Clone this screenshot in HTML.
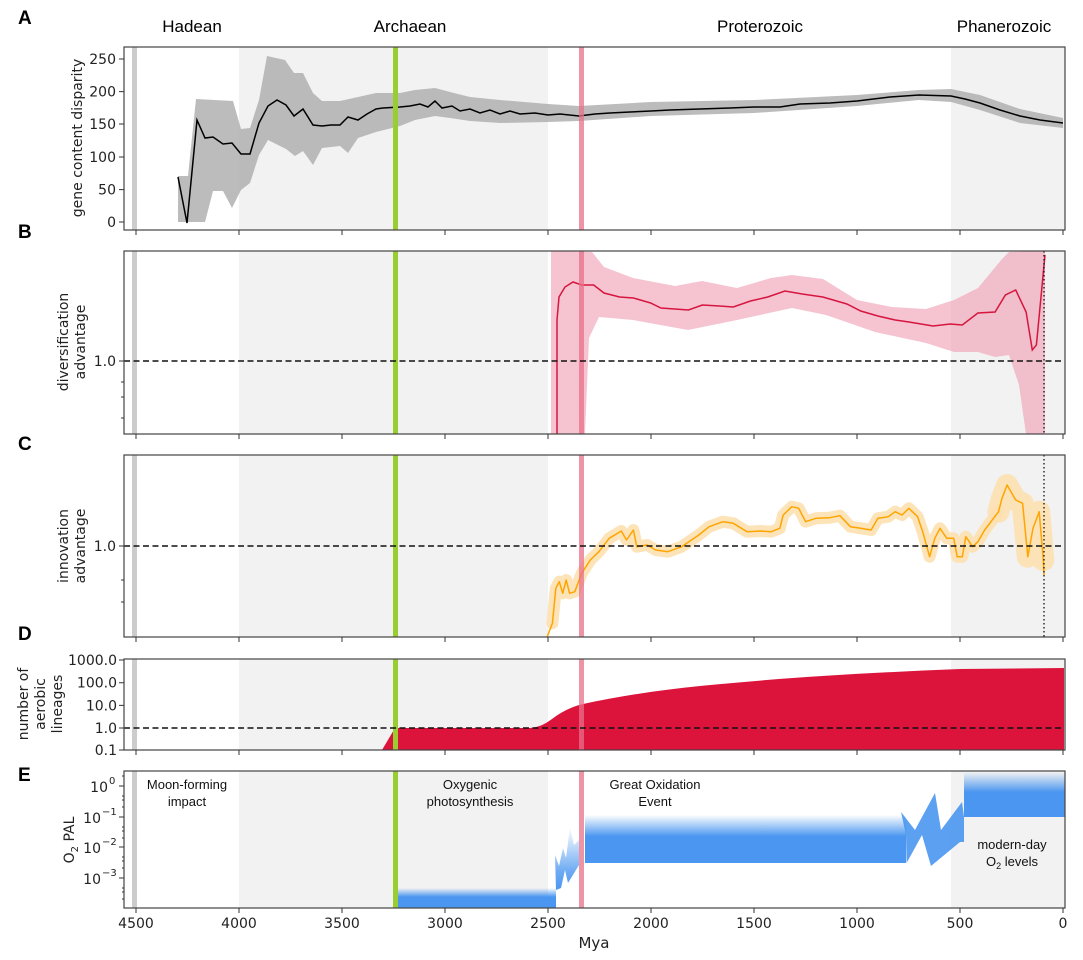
<!DOCTYPE html>
<html><head><meta charset="utf-8"><style>
html,body{margin:0;padding:0;background:#fff}
svg{display:block}
.t{font-family:"DejaVu Sans",sans-serif;font-size:14px;fill:#222}
.s{font-family:"DejaVu Sans",sans-serif;font-size:10px;fill:#222}
.h{font-family:"Liberation Sans",sans-serif;font-size:17px;fill:#000}
.a{font-family:"Liberation Sans",sans-serif;font-size:13px;fill:#111}
.L{font-family:"Liberation Sans",sans-serif;font-size:19px;font-weight:bold;fill:#000}
</style></head><body>
<svg width="1083" height="960" viewBox="0 0 1083 960" xmlns="http://www.w3.org/2000/svg">
<defs>
<linearGradient id="gb" x1="0" y1="1" x2="0" y2="0"><stop offset="0" stop-color="#4a96f0"/><stop offset="0.55" stop-color="#4a96f0"/><stop offset="1" stop-color="#4a96f0" stop-opacity="0"/></linearGradient>
<linearGradient id="gb2" x1="0" y1="1" x2="0" y2="0"><stop offset="0" stop-color="#4a96f0"/><stop offset="0.3" stop-color="#4a96f0" stop-opacity="0.8"/><stop offset="1" stop-color="#4a96f0" stop-opacity="0"/></linearGradient>
<linearGradient id="gb3" x1="0" y1="0" x2="0" y2="1"><stop offset="0" stop-color="#4a96f0" stop-opacity="0"/><stop offset="0.45" stop-color="#4a96f0"/><stop offset="1" stop-color="#4a96f0"/></linearGradient>
</defs>

<text class="h" x="192" y="32" text-anchor="middle">Hadean</text>
<text class="h" x="410" y="32" text-anchor="middle">Archaean</text>
<text class="h" x="760" y="32" text-anchor="middle">Proterozoic</text>
<text class="h" x="1004" y="32" text-anchor="middle">Phanerozoic</text>

<text class="L" x="18" y="24">A</text>
<text class="L" x="18" y="238">B</text>
<text class="L" x="18" y="450">C</text>
<text class="L" x="18" y="640">D</text>
<text class="L" x="18" y="781">E</text>

<g>
<rect x="239" y="47" width="309" height="183" fill="#f2f2f2"/><rect x="951" y="47" width="114" height="183" fill="#f2f2f2"/>
<rect x="239" y="251" width="309" height="183" fill="#f2f2f2"/><rect x="951" y="251" width="114" height="183" fill="#f2f2f2"/>
<rect x="239" y="455" width="309" height="182" fill="#f2f2f2"/><rect x="951" y="455" width="114" height="182" fill="#f2f2f2"/>
<rect x="239" y="659" width="309" height="91" fill="#f2f2f2"/><rect x="951" y="659" width="114" height="91" fill="#f2f2f2"/>
<rect x="239" y="771" width="309" height="137" fill="#f2f2f2"/><rect x="951" y="771" width="114" height="137" fill="#f2f2f2"/>
</g>

<polygon fill="#b0b0b0" fill-opacity="0.85" points="178,176 188,176 196,99 233,101 241,129 250,128 259,100 267,56 285,60 294,73 303,73 313,93 322,101 340,101 358,97 376,93 400,93 415,90 435,88 450,92 470,97 500,100 548,104 579,106 651,102 754,100 857,95 919,90 951,89 980,95 1020,109 1063,118 1063,128 1020,123 980,110 951,102 919,100 857,106 754,113 651,116 579,121 548,122 500,123 470,121 450,118 435,116 415,120 400,126 376,132 358,138 348,153 340,146 322,148 313,165 303,151 295,156 286,149 268,140 259,155 250,183 241,190 232,208 223,191 213,191 205,222 178,222"/>
<polyline fill="none" stroke="#000" stroke-width="1.5" points="178,177 187,223 197,120 205,138 213,137 223,144 232,143 241,154 250,154 259,123 268,106 277,100 286,105 294,116 303,109 313,125 322,126 331,125 340,125 348,117 358,120 367,114 376,109 383,108 400,107 410,106 420,104 428,107 435,101 442,108 452,106 460,111 470,109 480,113 490,110 500,114 510,111 520,114 535,113 548,115 560,114 579,116 595,114 610,113 630,112 651,111 670,110 700,109 730,108 754,107 780,107 800,104 830,103 857,101 890,97 919,95 951,96 965,99 980,103 1000,110 1020,116 1040,120 1063,123"/>

<polygon fill="#ee9cb0" fill-opacity="0.6" points="551,251 592,252 604,267 633,278 675,286 702,281 737,288 771,278 792,275 823,279 857,300 892,307 926,309 954,300 978,288 1002,259 1009,252 1045,251 1045,434 1026,434 1019,385 1009,355 995,357 978,352 954,352 926,343 875,332 826,315 792,308 737,320 688,330 633,320 599,317 589,338 585,434 551,434"/>
<polyline fill="none" stroke="#d6163f" stroke-width="1.5" points="557,434 557,320 559,297 565,287 573,282 581.7,285 593.7,285 604,293 619.6,297 633.4,298 650.6,303 660.9,308 674.7,309 688.5,310 702.3,305 719.5,306 733.3,307 750.5,301 767.7,297 784.9,291 802.2,294 822.8,297 833.2,300 846.9,304 860.7,311 877.9,316 895.2,320 909,322 933,326 950.3,324 962.3,325 977.9,313 995.1,312 1005.4,295 1015.7,290 1026.1,312 1032.3,350 1036.4,345 1045,255"/>

<g fill="none" stroke-linejoin="round" stroke-linecap="round">
<polyline stroke="#fde0b0" stroke-width="12" stroke-opacity="0.9" points="552.4,623.3 555.8,588.3 559.3,581.7 562.7,593.3 566.2,580 569.6,593.3 574.8,591.7 581.7,573.3 590.3,560 598.9,551.7 609.2,538.3 621.3,531 626.5,540 633.4,530 636.8,546.7 647.1,545 655.7,550 667.8,551.7 681.6,546.7 698.8,535 709.1,526.7 722.9,521.7 733.3,523.3 747,531.7 760.8,531 771.2,531.7 779.8,528.3 783.2,515 791.8,506.7 798.7,508.3 805.6,521.7 815.9,518.3 829.7,517.7 840,515.7 850.4,526.7 860.7,528.3 871.1,530 877.9,518.3 888.3,516.7 895.2,511.7 902,515 908.9,508.3 917.6,516.7 922.7,531.7 929.6,556.7 934.8,538.3 940,528.3 946.8,538.3 953.7,538.3 957.2,556.7 962.3,556.7 965.8,536.7 972.7,546.7 977.9,541.7 984.7,530 998.5,511.7"/>
<polyline stroke="#fde0b0" stroke-width="22" stroke-opacity="0.9" points="998.5,511.7 1002,498.3 1007.1,485 1015.7,500 1022.6,503.3 1027.8,556.7 1033,528.3 1039.2,511.7 1043.3,560"/>
<polyline stroke="#ffa500" stroke-width="1.5" points="547.2,636.7 552.4,623.3 555.8,588.3 559.3,581.7 562.7,593.3 566.2,580 569.6,593.3 574.8,591.7 581.7,573.3 590.3,560 598.9,551.7 609.2,538.3 621.3,531 626.5,540 633.4,530 636.8,546.7 647.1,545 655.7,550 667.8,551.7 681.6,546.7 698.8,535 709.1,526.7 722.9,521.7 733.3,523.3 747,531.7 760.8,531 771.2,531.7 779.8,528.3 783.2,515 791.8,506.7 798.7,508.3 805.6,521.7 815.9,518.3 829.7,517.7 840,515.7 850.4,526.7 860.7,528.3 871.1,530 877.9,518.3 888.3,516.7 895.2,511.7 902,515 908.9,508.3 917.6,516.7 922.7,531.7 929.6,556.7 934.8,538.3 940,528.3 946.8,538.3 953.7,538.3 957.2,556.7 962.3,556.7 965.8,536.7 972.7,546.7 977.9,541.7 984.7,530 998.5,511.7 1002,498.3 1007.1,485 1015.7,500 1022.6,503.3 1027.8,556.7 1033,528.3 1039.2,511.7 1043.3,560 1044,575"/>
</g>

<path fill="#dc143c" d="M382,750 L395,728 L530,728 C540,727 545,724 552,719 C560,713 570,707 583,704 C620,696 660,690 700,686 C780,678 860,673 960,669 L1064,668 L1064,750 Z"/>

<rect x="398" y="888" width="158" height="20" fill="url(#gb)"/>
<polygon fill="url(#gb2)" points="555,855 559,866 563,848 566,858 570,827 574,845 579,840 579,865 568,883 565,870 561,888 556,890"/>
<rect x="585" y="815" width="321" height="48" fill="url(#gb3)"/>
<polygon fill="#4a96f0" fill-opacity="0.9" points="901,812 915,830 935,793 941,830 962,802 964,817 964,842 960,842 931,866 922,835 906.6,863 906,835"/>
<rect x="964" y="772" width="101" height="45" fill="url(#gb3)"/>

<g>
<rect x="132" y="47" width="5" height="183" fill="#cccccc"/><rect x="132" y="251" width="5" height="183" fill="#cccccc"/><rect x="132" y="455" width="5" height="182" fill="#cccccc"/><rect x="132" y="659" width="5" height="91" fill="#cccccc"/><rect x="132" y="771" width="5" height="137" fill="#cccccc"/>
<g fill="#9acd32"><rect x="393" y="47" width="5" height="183"/><rect x="393" y="251" width="5" height="183"/><rect x="393" y="455" width="5" height="182"/><rect x="393" y="659" width="5" height="91"/><rect x="393" y="771" width="5" height="137"/></g>
<g fill="#e8708a" fill-opacity="0.75"><rect x="579" y="47" width="5" height="183"/><rect x="579" y="251" width="5" height="183"/><rect x="579" y="455" width="5" height="182"/><rect x="579" y="659" width="5" height="91"/><rect x="579" y="771" width="5" height="137"/></g>
</g>

<g stroke="#111" stroke-width="1.5" stroke-dasharray="6,3.5">
<line x1="124" y1="361" x2="1065" y2="361"/>
<line x1="124" y1="546" x2="1065" y2="546"/>
<line x1="124" y1="728" x2="1065" y2="728"/>
</g>
<g stroke="#111" stroke-width="1.3" stroke-dasharray="1.5,2.5">
<line x1="1044" y1="251" x2="1044" y2="434"/>
<line x1="1044" y1="455" x2="1044" y2="637"/>
</g>

<text class="a" x="187" y="789" text-anchor="middle">Moon-forming</text>
<text class="a" x="187" y="806" text-anchor="middle">impact</text>
<text class="a" x="470" y="789" text-anchor="middle">Oxygenic</text>
<text class="a" x="470" y="806" text-anchor="middle">photosynthesis</text>
<text class="a" x="655" y="789" text-anchor="middle">Great Oxidation</text>
<text class="a" x="655" y="806" text-anchor="middle">Event</text>
<text class="a" x="1012" y="849" text-anchor="middle">modern-day</text>
<text class="a" x="1012" y="866" text-anchor="middle">O<tspan font-size="9" dy="3">2</tspan><tspan dy="-3"> levels</tspan></text>

<g fill="none" stroke="#444" stroke-width="1.2">
<rect x="124" y="47" width="941" height="183"/>
<rect x="124" y="251" width="941" height="183"/>
<rect x="124" y="455" width="941" height="182"/>
<rect x="124" y="659" width="941" height="91"/>
<rect x="124" y="771" width="941" height="137"/>
</g>

<g stroke="#333" stroke-width="1">
<path d="M136,230v5M239,230v5M342,230v5M445,230v5M548,230v5M651,230v5M754,230v5M857,230v5M960,230v5M1063,230v5"/>
<path d="M136,434v5M239,434v5M342,434v5M445,434v5M548,434v5M651,434v5M754,434v5M857,434v5M960,434v5M1063,434v5"/>
<path d="M136,637v5M239,637v5M342,637v5M445,637v5M548,637v5M651,637v5M754,637v5M857,637v5M960,637v5M1063,637v5"/>
<path d="M136,750v5M239,750v5M342,750v5M445,750v5M548,750v5M651,750v5M754,750v5M857,750v5M960,750v5M1063,750v5"/>
<path d="M136,908v5M239,908v5M342,908v5M445,908v5M548,908v5M651,908v5M754,908v5M857,908v5M960,908v5M1063,908v5"/>
<path d="M124,59h-5M124,91.6h-5M124,124h-5M124,157h-5M124,189.6h-5M124,222h-5"/>
<path d="M124,361h-5M124,382h-3M124,397h-3M124,418h-3"/>
<path d="M124,546h-5M124,580h-3M124,602h-3"/>
<path d="M124,660h-5M124,682.7h-5M124,705.4h-5M124,728h-5M124,750h-5"/>
<path d="M124,786h-5M124,817h-5M124,847h-5M124,878h-5"/>
<path d="M124,776h-2M124,796h-2M124,800h-2M124,807h-2M124,827h-2M124,831h-2M124,838h-2M124,857h-2M124,861h-2M124,868h-2M124,888h-2M124,892h-2M124,899h-2"/>
</g>
<g class="t" text-anchor="end">
<text x="116" y="64">250</text><text x="116" y="96.6">200</text><text x="116" y="129">150</text><text x="116" y="162">100</text><text x="116" y="194.6">50</text><text x="116" y="227">0</text>
<text x="116" y="366">1.0</text>
<text x="116" y="551">1.0</text>
<text x="117" y="665">1000.0</text><text x="117" y="687.7">100.0</text><text x="117" y="710.4">10.0</text><text x="117" y="733">1.0</text><text x="117" y="755">0.1</text>
<text x="108" y="792">10</text><text x="101" y="823">10</text><text x="101" y="853">10</text><text x="101" y="884">10</text>
</g>
<g class="s">
<text x="109" y="784">0</text><text x="102" y="815">−1</text><text x="102" y="845">−2</text><text x="102" y="876">−3</text>
</g>
<g class="t" text-anchor="middle">
<text x="136" y="928">4500</text><text x="239" y="928">4000</text><text x="342" y="928">3500</text><text x="445" y="928">3000</text><text x="548" y="928">2500</text><text x="651" y="928">2000</text><text x="754" y="928">1500</text><text x="857" y="928">1000</text><text x="960" y="928">500</text><text x="1063" y="928">0</text>
<text x="594" y="948" style="font-size:15px">Mya</text>
</g>
<g class="t" text-anchor="middle">
<text transform="translate(82,138) rotate(-90)">gene content disparity</text>
<text transform="translate(68,342) rotate(-90)">diversification</text>
<text transform="translate(85,342) rotate(-90)">advantage</text>
<text transform="translate(68,546) rotate(-90)">innovation</text>
<text transform="translate(85,546) rotate(-90)">advantage</text>
<text transform="translate(28,704) rotate(-90)">number of</text>
<text transform="translate(45,704) rotate(-90)">aerobic</text>
<text transform="translate(62,704) rotate(-90)">lineages</text>
<text transform="translate(74,840) rotate(-90)">O<tspan style="font-size:10px" dy="4">2</tspan><tspan dy="-4"> PAL</tspan></text>
</g>
</svg>
</body></html>
